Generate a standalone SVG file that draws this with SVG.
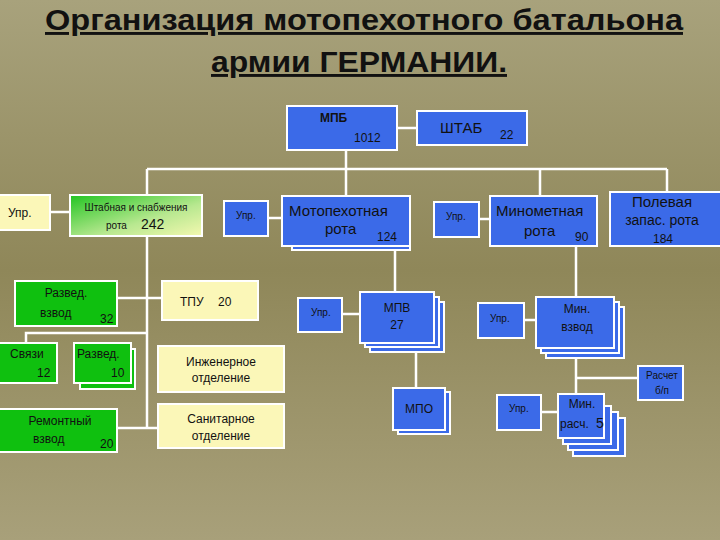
<svg xmlns="http://www.w3.org/2000/svg" width="720" height="540" viewBox="0 0 720 540">
<defs>
<linearGradient id="bg" x1="0" y1="0" x2="0" y2="1"><stop offset="0" stop-color="#a8a27c"/><stop offset="0.5" stop-color="#8f8759"/><stop offset="1" stop-color="#a8a07a"/></linearGradient>
<linearGradient id="gy" x1="0" y1="0" x2="1" y2="1"><stop offset="0" stop-color="#22c422"/><stop offset="0.6" stop-color="#b8e890"/><stop offset="1" stop-color="#f4f8b0"/></linearGradient>
<style>
.b{fill:#3b6ae8;stroke:#fff;stroke-width:2}
.g{fill:#0fc00f;stroke:#fff;stroke-width:2}
.y{fill:#fbf7b8;stroke:#fff;stroke-width:2}
.c{stroke:#fff;stroke-width:2.5;fill:none}
text{font-family:"Liberation Sans",Arial,sans-serif;fill:#111}
.t{font-size:29px;font-weight:bold;text-decoration:underline}
.s{font-size:12px}
.m{font-size:15px}
</style>
</defs>
<rect width="720" height="540" fill="url(#bg)"/>
<text class="t" x="45" y="30" textLength="638" lengthAdjust="spacingAndGlyphs">Организация мотопехотного батальона </text>
<text class="t" x="211" y="72" textLength="296" lengthAdjust="spacingAndGlyphs">армии ГЕРМАНИИ.</text>
<g id="connectors">
<path class="c" d="M397 128H417M346 150V169M147 169H667M147 169V195M346 169V196M540 169V196M667 169V192"/>
<path class="c" d="M50 212H70M147 236V428M117 298H162M147 333H26V343M117 428H158"/>
<path class="c" d="M268 218H282M395 246V292M342 314H360M416 343V388M479 219H490M576 246V403M524 320H536M576 378H638M541 412H558"/>
</g>
<g id="mpb"><rect class="b" x="287" y="106" width="110" height="44"/><text x="320" y="122" class="s" font-weight="bold">МПБ</text><text x="354" y="142" class="s">1012</text></g>
<g id="shtab"><rect class="b" x="417" y="111" width="110" height="34"/><text x="440" y="133" class="m">ШТАБ</text><text x="500" y="139" class="s">22</text></g>
<g id="upr1"><rect class="y" x="-2" y="195" width="52" height="35"/><text x="8" y="217" class="s">Упр.</text></g>
<g id="shtabnaya"><rect x="70" y="195" width="132" height="41" fill="url(#gy)" stroke="#fff" stroke-width="2"/><text x="136" y="211" font-size="10" text-anchor="middle">Штабная и снабжения</text><text x="106" y="229" font-size="10">рота</text><text x="141" y="229" font-size="14">242</text></g>
<g id="upr2"><rect class="b" x="224" y="201" width="44" height="35"/><text x="236" y="219" font-size="10">Упр.</text></g>
<g id="mprota"><rect class="b" x="292" y="206" width="118" height="44"/><rect class="b" x="287" y="201" width="118" height="44"/><rect class="b" x="282" y="196" width="128" height="50"/><text x="289" y="216" class="m">Мотопехотная</text><text x="325" y="234" class="m">рота</text><text x="377" y="241" font-size="12">124</text></g>
<g id="upr3"><rect class="b" x="434" y="202" width="45" height="35"/><text x="446" y="220" font-size="10">Упр.</text></g>
<g id="minrota"><rect class="b" x="490" y="196" width="107" height="50"/><text x="496" y="216" class="m">Минометная</text><text x="524" y="236" class="m">рота</text><text x="575" y="241" font-size="12">90</text></g>
<g id="polevaya"><rect class="b" x="610" y="192" width="112" height="54"/><text x="662" y="207" class="m" text-anchor="middle">Полевая</text><text x="662" y="225" font-size="14" text-anchor="middle">запас. рота</text><text x="663" y="243" font-size="12" text-anchor="middle">184</text></g>
<g id="razved"><rect class="g" x="15" y="281" width="102" height="45"/><text x="66" y="297" class="s" text-anchor="middle">Развед.</text><text x="40" y="317" class="s">взвод</text><text x="100" y="323" class="s">32</text></g>
<g id="tpu"><rect class="y" x="162" y="281" width="96" height="39"/><text x="180" y="306" class="s">ТПУ</text><text x="218" y="306" class="s">20</text></g>
<g id="svyazi"><rect class="g" x="-2" y="343" width="59" height="40"/><text x="10" y="358" class="s">Связи</text><text x="37" y="377" class="s">12</text></g>
<g id="razved10"><rect class="g" x="80" y="349" width="55" height="40"/><rect class="g" x="74" y="343" width="57" height="40"/><text x="77" y="358" class="s">Развед.</text><text x="111" y="377" class="s">10</text></g>
<g id="inzh"><rect class="y" x="158" y="346" width="126" height="46"/><text x="221" y="366" class="s" text-anchor="middle">Инженерное</text><text x="221" y="382" class="s" text-anchor="middle">отделение</text></g>
<g id="sanit"><rect class="y" x="158" y="404" width="126" height="44"/><text x="221" y="423" class="s" text-anchor="middle">Санитарное</text><text x="221" y="440" class="s" text-anchor="middle">отделение</text></g>
<g id="remont"><rect class="g" x="-2" y="409" width="119" height="43"/><text x="60" y="425" class="s" text-anchor="middle">Ремонтный</text><text x="33" y="443" class="s">взвод</text><text x="100" y="448" class="s">20</text></g>
<g id="upr4"><rect class="b" x="298" y="298" width="44" height="34"/><text x="311" y="316" font-size="10">Упр.</text></g>
<g id="mpv"><rect class="b" x="370" y="302" width="74" height="50"/><rect class="b" x="365" y="297" width="74" height="50"/><rect class="b" x="360" y="292" width="74" height="51"/><text x="397" y="312" class="s" text-anchor="middle">МПВ</text><text x="397" y="329" class="s" text-anchor="middle">27</text></g>
<g id="mpo"><rect class="b" x="398" y="392" width="52" height="42"/><rect class="b" x="393" y="388" width="52" height="42"/><text x="419" y="413" class="s" text-anchor="middle">МПО</text></g>
<g id="upr5"><rect class="b" x="478" y="303" width="46" height="35"/><text x="490" y="322" font-size="10">Упр.</text></g>
<g id="minvzvod"><rect class="b" x="546" y="307" width="78" height="51"/><rect class="b" x="541" y="302" width="78" height="51"/><rect class="b" x="536" y="297" width="78" height="51"/><text x="577" y="313" class="s" text-anchor="middle">Мин.</text><text x="577" y="331" class="s" text-anchor="middle">взвод</text></g>
<g id="raschet"><rect class="b" x="638" y="366" width="45" height="34"/><text x="662" y="379" font-size="10" text-anchor="middle">Расчет</text><text x="662" y="394" font-size="10" text-anchor="middle">б/п</text></g>
<g id="upr6"><rect class="b" x="497" y="395" width="44" height="35"/><text x="509" y="412" font-size="10">Упр.</text></g>
<g id="minrasch"><rect class="b" x="573" y="418" width="52" height="38"/><rect class="b" x="568" y="412" width="50" height="38"/><rect class="b" x="563" y="406" width="48" height="38"/><rect class="b" x="558" y="394" width="46" height="44"/><text x="582" y="408" class="s" text-anchor="middle">Мин.</text><text x="560" y="428" class="s">расч.</text><text x="596" y="428" font-size="14">5</text></g>
</svg>
